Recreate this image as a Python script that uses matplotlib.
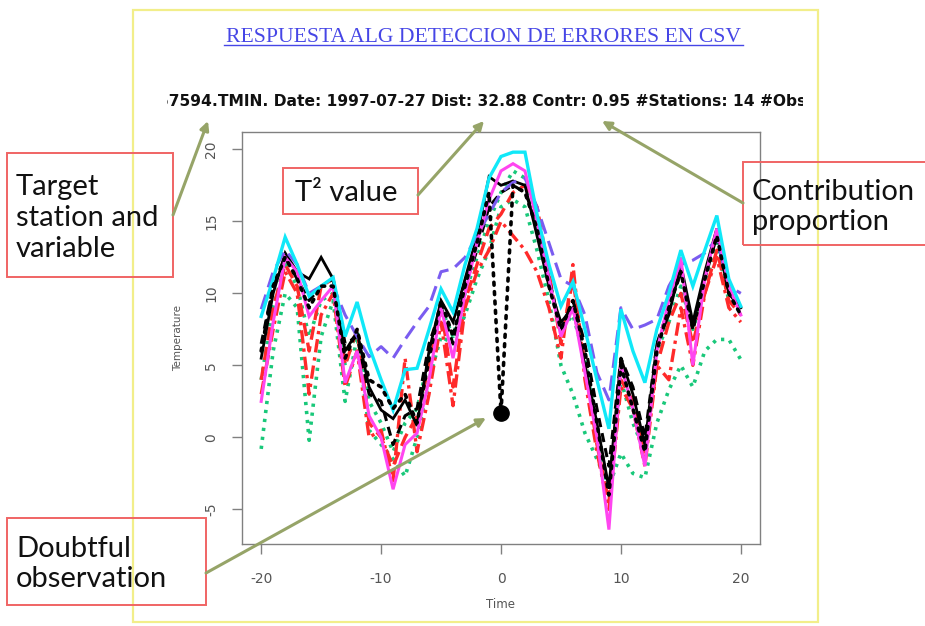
import matplotlib
matplotlib.use("Agg")
import matplotlib.pyplot as plt
from matplotlib.patches import Rectangle, FancyArrowPatch
from matplotlib.lines import Line2D

plt.rcParams["axes.unicode_minus"] = False

# ---------------- data ----------------
time = list(range(-20, 21))

green_dot1 = [-0.8, 6, 10, 9, -0.2, 7, 9.5, 2.5, 7, 0.5,
              -0.5, -1.5, -2.7, 0, 4, 7, 6.5, 8.5, 11, 13,
              16, 16.5, 16, 13, 9.5, 5, 3, 0.3, -1.5, -3.4,
              -1.1, -2.5, -2.8, 1, 3.3, 5, 3.5, 6, 6.8, 6.8, 5.4]
green_dot2 = [4, 9, 12, 10.5, 7, 9.5, 10, 5, 7.5, 2.5,
              1, -1, 1, 2, 5.5, 9, 7, 10, 12.5, 15,
              17, 18.5, 18, 14.5, 11, 7.5, 8.5, 5.5, 0.5, -4,
              4, 1, -1, 6, 8, 10.5, 7.5, 10.5, 13.5, 9.5, 9]
red_dash = [4, 9, 12, 10.5, 6, 10.5, 11, 5, 7.5, 1,
            0, -2, 0, 1.5, 5, 9, 3.5, 9.5, 12, 14.5,
            15.5, 17, 17.5, 16, 11.5, 6.5, 11, 5, -0.5, -4.5,
            4, 2.5, -1, 5, 8, 10, 6.5, 10, 13, 9.5, 8.5]
red_dotdash = [3, 7.5, 11.5, 10, 3, 8.5, 10, 3.5, 6, 0,
               0.5, -3, 5.5, -1, 3, 8, 2.2, 9, 11.5, 13,
               15, 14, 13, 11.5, 9, 5.5, 12, 4, -1, -5,
               3.5, 2, -2, 5, 4, 9, 5, 10, 12.5, 9, 8]
black_dash = [6.5, 10.5, 12.5, 11, 9.5, 10.5, 11, 6.5, 7, 3,
              2.5, -0.5, 1.5, 2, 6.5, 9, 6.5, 10.5, 13, 16,
              17, 17.5, 17, 15, 11, 7.5, 9.5, 6.5, 2, -2,
              5.5, 3.5, 0, 6.5, 9, 11.5, 7.5, 11, 14, 10, 9]
black_solid = [5.5, 10, 12.8, 11.5, 11, 12.5, 11, 6, 7.3, 3.5,
               1.9, 1.3, 2.6, 0.8, 6, 9.5, 8, 11, 14, 18.1,
               17.5, 17.8, 17.5, 14, 10.5, 8, 9, 5, 1, -3.5,
               5.5, 3, -0.5, 6.5, 8.5, 12, 8, 11.5, 14.5, 10, 9]
purple_dash = [8.9, 11.5, 13, 12, 10, 10.5, 10.5, 8.5, 7, 5.6,
               6.3, 5.5, 6.8, 8, 9.1, 11.5, 11.7, 12.5, 14, 15.5,
               17, 17.7, 18, 16, 13.5, 11, 10.5, 8.5, 4.5, 2.6,
               9, 7.5, 7.8, 8.2, 10.5, 12, 12.3, 12.8, 13.8, 10.5, 10]
magenta = [2.5, 8, 12.5, 11.5, 8.4, 9.5, 10.5, 3.8, 6, 1.5,
           0, -3.6, -0.5, 0.3, 4, 9, 5.5, 10, 13.5, 16.5,
           18.5, 19, 18.5, 15, 11, 7, 9, 4.5, 0, -6.4,
           5, 2, -2, 6, 9.5, 12.5, 5, 11, 14.5, 10.5, 8.5]
cyan = [8.4, 11, 13.9, 12, 9.8, 10.5, 11.1, 7, 9.4, 6.3,
        4, 1.9, 4.7, 4.8, 7.5, 10.3, 8.7, 12, 14.5, 18,
        19.5, 19.8, 19.8, 15.5, 12, 9.1, 10.8, 7.5, 4, 0.6,
        8.9, 6, 3.8, 7.5, 10, 13, 10.5, 13, 15.4, 11, 9.1]
target = [6, 10.5, 12.5, 11, 9, 10.5, 10.5, 5.5, 7.5, 4,
          3.5, 2, 3, 1, 5.5, 9.5, 7, 10.5, 13.5, 17,
          1.7, 17.5, 17, 14.5, 10.5, 7.5, 9.5, 6, 1, -4,
          5, 2, -1, 6, 9, 11.5, 7.5, 11, 14, 10, 8.5]
doubtful_time = 0
doubtful_value = 1.7

x_ticks = [-20, -10, 0, 10, 20]
y_ticks = [-5, 0, 5, 10, 15, 20]

title_text = "RESPUESTA ALG DETECCION DE ERRORES EN CSV"
subtitle_text = "57594.TMIN. Date: 1997-07-27 Dist: 32.88 Contr: 0.95 #Stations: 14 #Obs: 41"

# ---------------- figure ----------------
W, H = 925, 626
fig = plt.figure(figsize=(W / 100, H / 100), dpi=100)
fig.patch.set_facecolor("white")


def fx(px):
    return px / W


def fy(py):
    return 1 - py / H


ax = fig.add_axes([fx(242), fy(544), fx(760) - fx(242), fy(132) - fy(544)])

GREEN = "#19c87a"
RED = "#ff2a2a"
PURPLE = "#7a5cf0"
MAGENTA = "#ff45f0"
CYAN = "#10e8f8"

series = [
    (green_dot1, GREEN, (0, (0.9, 1.6)), 2.6),
    (green_dot2, GREEN, (0, (0.9, 1.6)), 2.6),
    (red_dash, RED, (0, (4, 2)), 2.4),
    (red_dotdash, RED, (0, (4, 1.5, 1, 1.5)), 2.4),
    (black_dash, "black", (0, (3, 2)), 2.2),
    (black_solid, "black", "-", 2.0),
    (purple_dash, PURPLE, (0, (5, 2.5)), 2.2),
    (magenta, MAGENTA, "-", 2.2),
    (cyan, CYAN, "-", 2.4),
]
for vals, col, ls, lw in series:
    ax.plot(time, vals, color=col, linestyle=ls, linewidth=lw,
            solid_joinstyle="miter", dash_capstyle="butt")

ax.plot(time, target, color="black", linestyle=(0, (0.8, 1.8)), linewidth=2.6,
        dash_capstyle="round")
ax.plot([doubtful_time], [doubtful_value], "o", color="black", markersize=11)

ax.set_xlim(-21.6, 21.6)
ax.set_ylim(-7.4, 21.2)
ax.set_xticks(x_ticks)
ax.set_yticks(y_ticks)
for sp in ax.spines.values():
    sp.set_color("#808080")
    sp.set_linewidth(1.0)
ax.tick_params(direction="out", length=7, width=1, color="#808080",
               labelcolor="#555555", labelsize=10)
ax.tick_params(axis="x", pad=13)
ax.tick_params(axis="y", pad=10)
for lbl in ax.get_yticklabels():
    lbl.set_rotation(90)
    lbl.set_va("center")
ax.set_xlabel("Time", fontsize=8.5, color="#555555", labelpad=9)
ax.set_ylabel("Temperature", fontsize=7.5, color="#555555", labelpad=15)

# yellow slide frame
fig.add_artist(Rectangle((fx(133), fy(622)), fx(818) - fx(133), fy(10) - fy(622),
                         transform=fig.transFigure, fill=False,
                         edgecolor="#f2ee8a", linewidth=1.6, zorder=0))

# title
fig.text(fx(483), fy(37), title_text, family="Liberation Serif", fontsize=15.6,
         color="#4646e6", ha="center", va="center")
fig.add_artist(Line2D([fx(224), fx(743)], [fy(45), fy(45)], transform=fig.transFigure,
                      color="#4646e6", linewidth=1.0))

# clipped subtitle
clip = Rectangle((fx(167), fy(120)), fx(803) - fx(167), fy(82) - fy(120),
                 transform=fig.transFigure, visible=False)
fig.add_artist(clip)
st = fig.text(fx(158), fy(101), subtitle_text, family="DejaVu Sans",
              fontweight="bold", fontsize=11.2, color="#111111",
              ha="left", va="center")
st.set_clip_path(clip)

# annotation boxes
BOXC = "#f06464"
FONT = "Lato"
FS = 21


def box(x0, y0, x1, y1):
    fig.add_artist(Rectangle((fx(x0), fy(y1)), fx(x1) - fx(x0), fy(y0) - fy(y1),
                             transform=fig.transFigure, fill=False,
                             edgecolor=BOXC, linewidth=1.4, zorder=5))


box(7, 153, 173, 277)
fig.text(fx(16), fy(218), "Target\nstation and\nvariable", family=FONT, fontsize=FS,
         color="#111111", ha="left", va="center", linespacing=1.22)

box(283, 168, 418, 214)
fig.text(fx(295), fy(193), "T² value", family=FONT, fontsize=FS,
         color="#111111", ha="left", va="center")

box(743, 162, 930, 245)
fig.text(fx(752), fy(207), "Contribution\nproportion", family=FONT, fontsize=FS,
         color="#111111", ha="left", va="center", linespacing=1.22)

box(7, 518, 206, 605)
fig.text(fx(16), fy(564), "Doubtful\nobservation", family=FONT, fontsize=FS,
         color="#111111", ha="left", va="center", linespacing=1.22)

# arrows
ARC = "#96a468"


def arrow(p0, p1):
    fig.add_artist(FancyArrowPatch((fx(p0[0]), fy(p0[1])), (fx(p1[0]), fy(p1[1])),
                                   transform=fig.transFigure, arrowstyle="-|>",
                                   mutation_scale=13, color=ARC, linewidth=2.2,
                                   shrinkA=0, shrinkB=0, zorder=6))


arrow((173, 215), (208, 121))
arrow((418, 195), (484, 121))
arrow((743, 203), (602, 121))
arrow((206, 573), (486, 418))

fig.savefig("out.png", dpi=100)
